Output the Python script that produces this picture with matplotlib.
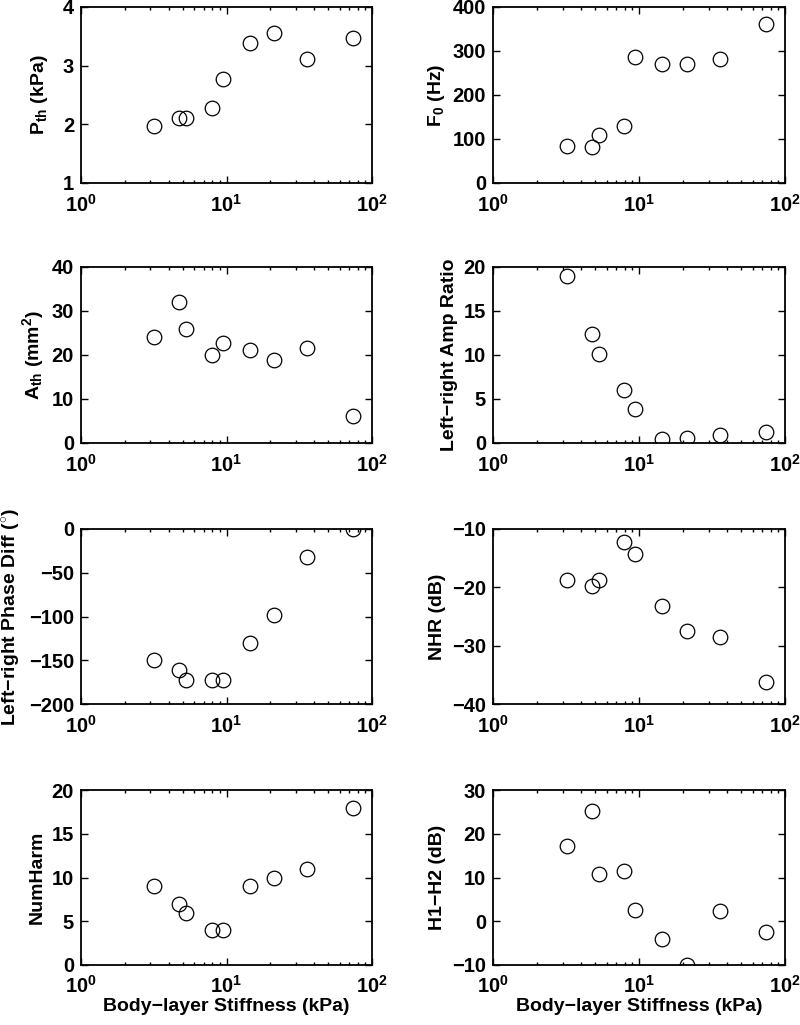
import numpy as np
import matplotlib
matplotlib.use('Agg')
import matplotlib.pyplot as plt
from matplotlib.ticker import FixedLocator, FixedFormatter, LogLocator, NullFormatter

plt.rcParams['font.family'] = ['Liberation Sans', 'DejaVu Sans']
plt.rcParams['font.weight'] = 'bold'
plt.rcParams['font.size'] = 14
plt.rcParams['mathtext.fontset'] = 'custom'
plt.rcParams['mathtext.rm'] = 'Liberation Sans:bold'
plt.rcParams['mathtext.bf'] = 'Liberation Sans:bold'
plt.rcParams['mathtext.it'] = 'Liberation Sans:bold'

# body-layer stiffness (kPa)
stiffness = [3.2, 4.75, 5.3, 7.9, 9.4, 14.4, 21.3, 36.0, 73.6]

# measured quantities
p_th = [1.97, 2.10, 2.10, 2.27, 2.78, 3.38, 3.55, 3.12, 3.48]
f0 = [84, 82, 109, 129, 286, 270, 270, 281, 361]
a_th = [24.2, 32.0, 25.9, 19.9, 22.8, 21.1, 18.9, 21.5, 6.2]
amp_ratio = [19.0, 12.4, 10.1, 6.0, 3.84, 0.42, 0.61, 0.87, 1.29]
phase_diff = [-149.4, -160.8, -173, -172, -172, -130.8, -98.1, -32.3, 0]
nhr = [-18.8, -19.7, -18.7, -12.3, -14.3, -23.2, -27.4, -28.5, -36.2]
num_harm = [9, 7, 6, 4, 4, 9, 10, 11, 18]
h1_h2 = [17.3, 25.2, 10.9, 11.4, 2.5, -4.1, -9.9, 2.3, -2.5]

panels = [
    (p_th, r'$\mathbf{P_{th}}$ (kPa)', (1, 4), [1, 2, 3, 4]),
    (f0, r'$\mathbf{F_{0}}$ (Hz)', (0, 400), [0, 100, 200, 300, 400]),
    (a_th, r'$\mathbf{A_{th}}$ (mm$\mathbf{^{2}}$)', (0, 40), [0, 10, 20, 30, 40]),
    (amp_ratio, 'Left\u2212right Amp Ratio', (0, 20), [0, 5, 10, 15, 20]),
    (phase_diff, 'Left\u2212right Phase Diff ($^{\\circ}$)', (-200, 0), [-200, -150, -100, -50, 0]),
    (nhr, 'NHR (dB)', (-40, -10), [-40, -30, -20, -10]),
    (num_harm, 'NumHarm', (0, 20), [0, 5, 10, 15, 20]),
    (h1_h2, 'H1\u2212H2 (dB)', (-10, 30), [-10, 0, 10, 20, 30]),
]

W, H = 800, 1025
fig = plt.figure(figsize=(8, 10.25), dpi=100)

cols = [(81, 372), (493, 785)]
rows = [(7, 183), (267, 443), (529, 704), (790, 965)]

for i, (vals, label, ylim, yticks) in enumerate(panels):
    r, c = divmod(i, 2)
    x0, x1 = cols[c]
    y0, y1 = rows[r]
    ax = fig.add_axes([x0 / W, 1 - y1 / H, (x1 - x0) / W, (y1 - y0) / H])
    ax.plot(stiffness, vals, 'o', mfc='none', mec='black', ms=10.5, mew=0.9)
    ax.set_xscale('log')
    ax.set_xlim(1, 100)
    ax.set_ylim(*ylim)
    ax.xaxis.set_major_locator(FixedLocator([1, 10, 100]))
    ax.xaxis.set_major_formatter(FixedFormatter([r'$\mathbf{10^{0}}$', r'$\mathbf{10^{1}}$', r'$\mathbf{10^{2}}$']))
    ax.xaxis.set_minor_locator(LogLocator(base=10, subs=np.arange(2, 10)))
    ax.xaxis.set_minor_formatter(NullFormatter())
    ax.set_yticks(yticks)
    ax.set_yticklabels([str(t).replace('-', '\u2212') for t in yticks])
    ax.tick_params(which='both', direction='in', top=True, right=True, width=1,
                   labelsize=14.5)
    ax.tick_params(which='major', length=5)
    ax.tick_params(axis='y', which='major', pad=5)
    ax.tick_params(axis='x', which='major', pad=8 if r < 3 else 7)
    ax.tick_params(which='minor', length=2.5)
    for s in ax.spines.values():
        s.set_linewidth(1.3)
    # single-digit tick labels leave the label too close, push it out
    ax.set_ylabel(label, fontweight='bold', labelpad=9 if i == 0 else 4)
    if r == 3:
        ax.set_xlabel('Body\u2212layer Stiffness (kPa)', fontweight='bold', labelpad=1)

fig.savefig('out.png', dpi=100)
